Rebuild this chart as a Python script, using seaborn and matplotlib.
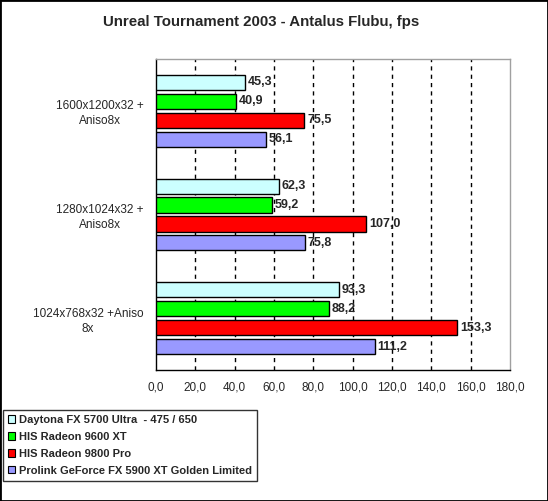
import matplotlib
matplotlib.use("Agg")
import matplotlib.pyplot as plt
import seaborn as sns
import pandas as pd
from matplotlib.patches import Patch, Rectangle
from matplotlib.ticker import FixedLocator

categories = ["1600x1200x32 +\nAniso8x", "1280x1024x32 +\nAniso8x", "1024x768x32 +Aniso\n8x"]
series = ["Daytona FX 5700 Ultra  - 475 / 650", "HIS Radeon 9600 XT",
          "HIS Radeon 9800 Pro", "Prolink GeForce FX 5900 XT Golden Limited"]
daytona = [45.3, 62.3, 93.3]
his9600 = [40.9, 59.2, 88.2]
his9800 = [75.5, 107.0, 153.3]
prolink = [56.1, 75.8, 111.2]
colors = ["#CCFFFF", "#00FF00", "#FF0000", "#9999FF"]
xticks = [0, 20, 40, 60, 80, 100, 120, 140, 160, 180]

sns.set_style("white")
plt.rcParams['font.family'] = ['Liberation Sans', 'DejaVu Sans']

rows = []
for s, vals in zip(series, [daytona, his9600, his9800, prolink]):
    for c, v in zip(categories, vals):
        rows.append({"cat": c, "series": s, "value": v})
df = pd.DataFrame(rows)

fig = plt.figure(figsize=(5.48, 5.01), dpi=100)
ax = fig.add_axes([156/548, 1-370/501, (510-156)/548, (370-59)/501])

sns.barplot(data=df, y="cat", x="value", hue="series", order=categories,
            hue_order=series, palette=colors, orient="h", width=0.73, gap=0.2,
            edgecolor="black", linewidth=1, saturation=1, ax=ax, legend=False)
for p in ax.patches:
    p.set_zorder(3)

ax.set_xlim(0, 180)
ax.set_ylim(2.5, -0.5)
ax.set_xticks(xticks)
ax.set_xticklabels([f"{t:.1f}".replace(".", ",") for t in xticks], fontsize=8.5)
ax.tick_params(axis="x", direction="inout", length=6, width=1, color="black", pad=5)
ax.tick_params(axis="y", which="major", length=0, pad=9)
ax.yaxis.set_minor_locator(FixedLocator([-0.5, 0.5, 1.5, 2.5]))
ax.tick_params(axis="y", which="minor", length=5, width=1, color="black", direction="out")
for lbl in ax.get_yticklabels():
    lbl.set_fontsize(8.5)
    lbl.set_multialignment("center")
    lbl.set_linespacing(1.35)
ax.set_xlabel("")
ax.set_ylabel("")
ax.grid(False)
for t in xticks[1:-1]:
    ax.axvline(t, color="black", linestyle=(0, (3, 3)), linewidth=1, zorder=1)

for side in ["left", "bottom"]:
    ax.spines[side].set_color("black")
    ax.spines[side].set_linewidth(1)
for side in ["top", "right"]:
    ax.spines[side].set_color("#A0A0A0")
    ax.spines[side].set_linewidth(1)

for cont in ax.containers:
    for bar in cont:
        w = bar.get_width()
        y = bar.get_y() + bar.get_height() / 2
        ax.text(w + 1.3, y, f"{w:.1f}".replace(".", ","), va="center", ha="left",
                fontsize=9, fontweight="bold", zorder=4)

fig.text(261/548, 1-22/501, "Unreal Tournament 2003 - Antalus Flubu, fps",
         ha="center", va="center", fontsize=10.8, fontweight="bold")

handles = [Patch(facecolor=c, edgecolor="black", linewidth=0.8) for c in colors]
leg = fig.legend(handles, series, loc="upper left", bbox_to_anchor=(3/548, 1-410/501),
                 frameon=True, fancybox=False, edgecolor="black", handlelength=0.65,
                 handleheight=0.65, handletextpad=0.3, labelspacing=0.62,
                 borderpad=0.45, borderaxespad=0, prop={"size": 8, "weight": "bold"})
leg.get_frame().set_linewidth(1)

fig.patches.append(Rectangle((0, 0), 1, 1, transform=fig.transFigure, fill=False,
                             edgecolor="black", linewidth=2))
fig.savefig("out.png", dpi=100)
